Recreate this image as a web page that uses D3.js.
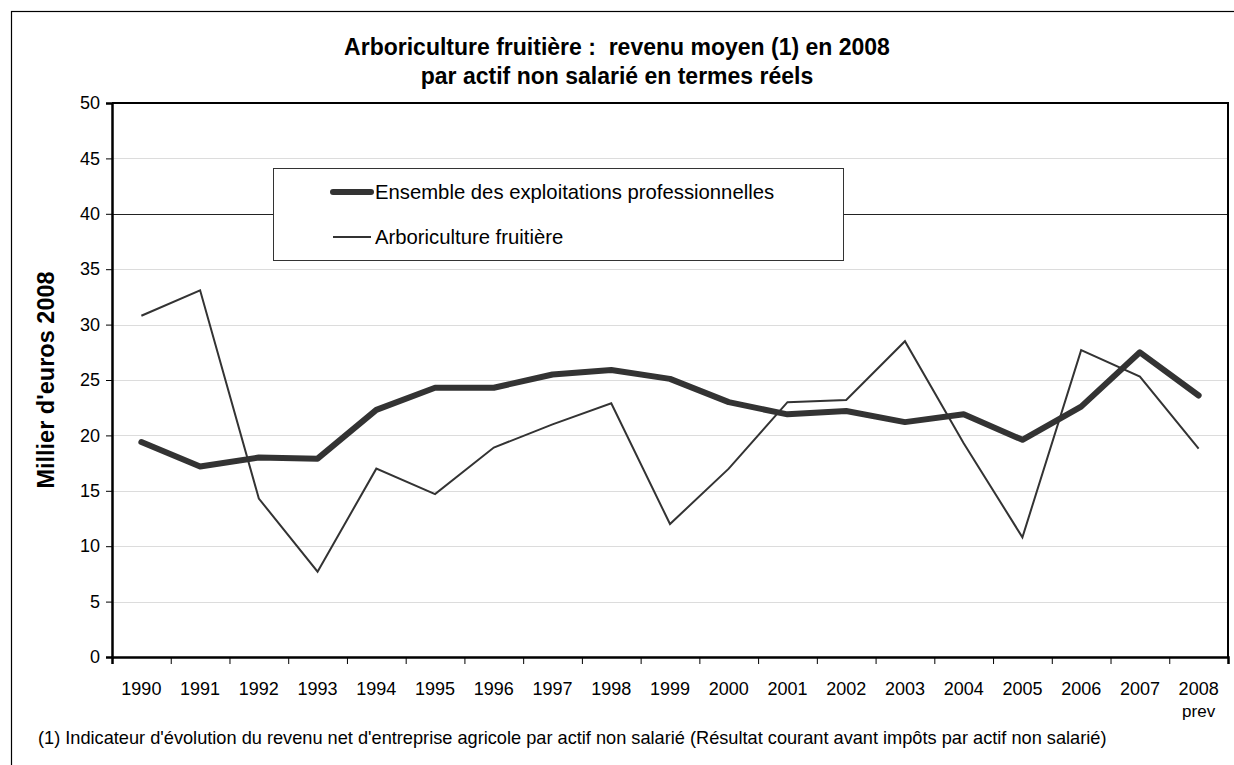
<!DOCTYPE html>
<html>
<head>
<meta charset="utf-8">
<script src="https://cdn.jsdelivr.net/npm/d3@7"></script>
<style>
  body { margin: 0; background: #fff; }
  svg { font-family: "Liberation Sans", Arial, sans-serif; }
</style>
</head>
<body>
<script>
// years on the x axis
var years = ["1990", "1991", "1992", "1993", "1994", "1995", "1996", "1997", "1998", "1999",
             "2000", "2001", "2002", "2003", "2004", "2005", "2006", "2007", "2008"];

// thick line: all professional farms
var ensemble = [19.4, 17.2, 18.0, 17.9, 22.3, 24.3, 24.3, 25.5, 25.9, 25.1,
                23.0, 21.9, 22.2, 21.2, 21.9, 19.6, 22.6, 27.5, 23.6];

// thin line: fruit growing
var arbo = [30.8, 33.1, 14.3, 7.7, 17.0, 14.7, 18.9, 21.0, 22.9, 12.0,
            17.0, 23.0, 23.2, 28.5, 19.3, 10.8, 27.7, 25.3, 18.8];

var yTicks = [0, 5, 10, 15, 20, 25, 30, 35, 40, 45, 50];

var seriesNames = ["Ensemble des exploitations professionnelles", "Arboriculture fruitière"];

// size of page and plot area
var w = 1234;
var h = 765;
var pLeft = 112, pRight = 1228, pTop = 103, pBottom = 657;

var svg = d3.select("body")
            .append("svg")
            .attr("width", w)
            .attr("height", h);

// outer frame
svg.append("rect")
   .attr("x", 11.5)
   .attr("y", 11.5)
   .attr("width", 1240)
   .attr("height", 800)
   .attr("fill", "none")
   .attr("stroke", "#000")
   .attr("stroke-width", 1.2);

// scales
var x = d3.scaleBand()
          .domain(years)
          .range([pLeft, pRight])
          .padding(0);

var y = d3.scaleLinear()
          .domain([0, 50])
          .range([pBottom, pTop]);

// index scale for ticks between years
var xi = d3.scaleLinear()
           .domain([0, years.length])
           .range([pLeft, pRight]);

// grid lines
svg.append("g")
   .selectAll("line")
   .data(yTicks.filter(d => d > 0 && d < 50))
   .enter().append("line")
   .attr("x1", pLeft)
   .attr("x2", pRight)
   .attr("y1", d => Math.round(y(d)) + 0.5)
   .attr("y2", d => Math.round(y(d)) + 0.5)
   .attr("stroke", d => d === 40 ? "#222" : "#dcdcdc")
   .attr("stroke-width", 1);

// plot frame top + right
svg.append("path")
   .attr("d", "M" + pLeft + "," + pTop + "H" + pRight + "V" + pBottom)
   .attr("fill", "none")
   .attr("stroke", "#000")
   .attr("stroke-width", 2);

// y axis
var yAxis = svg.append("g")
   .attr("transform", "translate(" + pLeft + ",0)")
   .call(d3.axisLeft(y).tickValues(yTicks).tickSize(6).tickPadding(6));
yAxis.select(".domain").attr("stroke-width", 2.5);
yAxis.selectAll("text").style("font-size", "18px").attr("fill", "#000");

// x axis ticks at the boundaries
var xTickAxis = svg.append("g")
   .attr("transform", "translate(0," + pBottom + ")")
   .call(d3.axisBottom(xi).tickValues(d3.range(years.length + 1)).tickSize(7).tickFormat(""));
xTickAxis.select(".domain").attr("stroke-width", 2.5);

// x labels
var xAxis = svg.append("g")
   .attr("transform", "translate(0," + pBottom + ")")
   .call(d3.axisBottom(x).tickSize(0).tickPadding(25));
xAxis.select(".domain").remove();
xAxis.selectAll("text").style("font-size", "18px").attr("fill", "#000");
xAxis.selectAll(".tick")
     .filter(d => d === "2008")
     .append("text")
     .attr("y", 48)
     .attr("dy", "0.71em")
     .attr("fill", "#000")
     .style("font-size", "17px")
     .text("prev");

// lines
var line = d3.line()
             .x((d, i) => x(years[i]) + x.bandwidth() / 2)
             .y(d => y(d));

svg.append("path")
   .datum(arbo)
   .attr("fill", "none")
   .attr("stroke", "#333")
   .attr("stroke-width", 2)
   .attr("d", line);

svg.append("path")
   .datum(ensemble)
   .attr("fill", "none")
   .attr("stroke", "#333")
   .attr("stroke-width", 6)
   .attr("stroke-linejoin", "round")
   .attr("stroke-linecap", "round")
   .attr("d", line);

// legend
var legend = svg.append("g");
legend.append("rect")
      .attr("x", 273.5)
      .attr("y", 168.5)
      .attr("width", 570)
      .attr("height", 92)
      .attr("fill", "#fff")
      .attr("stroke", "#333")
      .attr("stroke-width", 1);

legend.selectAll(".lg")
      .data(seriesNames)
      .enter().append("line")
      .attr("x1", 333)
      .attr("x2", 371)
      .attr("y1", (d, i) => 192 + i * 45)
      .attr("y2", (d, i) => 192 + i * 45)
      .attr("stroke", "#333")
      .attr("stroke-width", (d, i) => i === 0 ? 6 : 2)
      .attr("stroke-linecap", (d, i) => i === 0 ? "round" : "butt");

legend.selectAll("text")
      .data(seriesNames)
      .enter().append("text")
      .attr("x", 375)
      .attr("y", (d, i) => 192 + i * 45)
      .attr("dy", "0.35em")
      .style("font-size", "20.3px")
      .text(d => d);

// title
svg.append("text")
   .attr("x", 617)
   .attr("y", 55)
   .attr("text-anchor", "middle")
   .style("font-size", "23px")
   .style("font-weight", "bold")
   .style("white-space", "pre")
   .text("Arboriculture fruitière :  revenu moyen (1) en 2008");

svg.append("text")
   .attr("x", 617)
   .attr("y", 84)
   .attr("text-anchor", "middle")
   .style("font-size", "23px")
   .style("font-weight", "bold")
   .text("par actif non salarié en termes réels");

// y axis title
svg.append("text")
   .attr("transform", "translate(54,380) rotate(-90)")
   .attr("text-anchor", "middle")
   .style("font-size", "23.5px")
   .style("font-weight", "bold")
   .text("Millier d'euros 2008");

// footnote
svg.append("text")
   .attr("x", 38)
   .attr("y", 744)
   .style("font-size", "18.2px")
   .text("(1) Indicateur d'évolution du revenu net d'entreprise agricole par actif non salarié (Résultat courant avant impôts par actif non salarié)");
</script>
</body>
</html>
